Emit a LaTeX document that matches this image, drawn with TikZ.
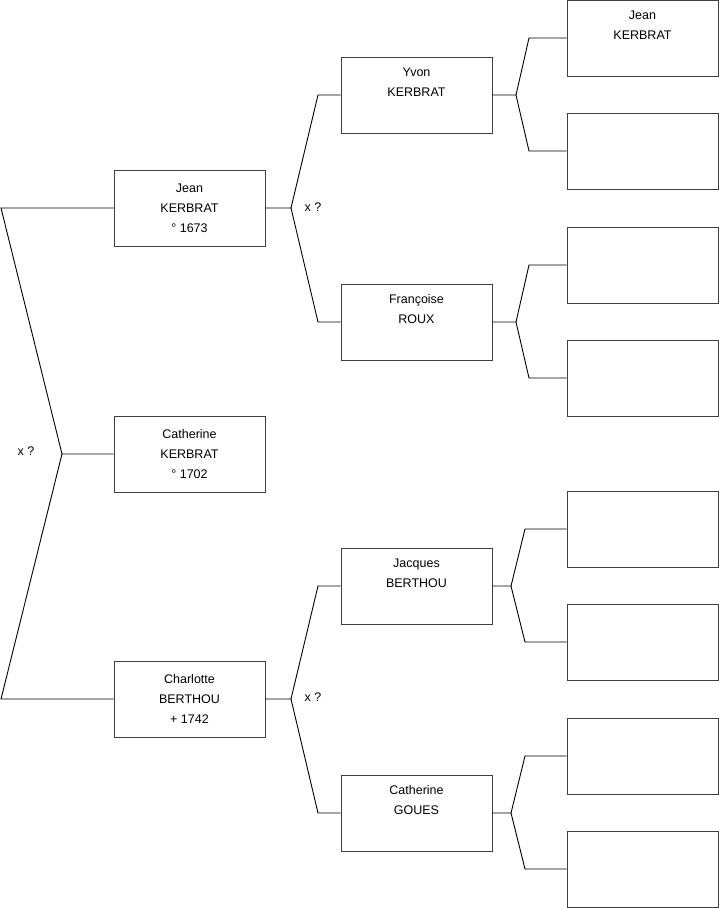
\documentclass[tikz,border=0pt]{standalone}
\usepackage{fontspec}
\setmainfont{Liberation Sans}

\begin{document}
\begin{tikzpicture}[x=1pt, y=-1pt,
    person/.style={draw=black!75, line width=1pt, minimum width=151pt, minimum height=76pt,
      inner sep=0pt, align=center, font=\fontsize{12.5}{20}\selectfont},
    link/.style={black, line width=0.9pt},
    union/.style={font=\fontsize{12.5}{15}\selectfont}]
    \useasboundingbox (0,0) rectangle (719,908);

    % Generation 1 (child and parents)
    \node[person] (cath)  at (189.5,454) {Catherine\\KERBRAT\\° 1702};
    \node[person] (jean)  at (189.5,208) {Jean\\KERBRAT\\° 1673};
    \node[person] (charl) at (189.5,699) {Charlotte\\BERTHOU\\+ 1742};

    % Generation 2 (grandparents)
    \node[person] (yvon)  at (416.5,95)  {Yvon\\KERBRAT\\\strut};
    \node[person] (franc) at (416.5,322) {Françoise\\ROUX\\\strut};
    \node[person] (jacq)  at (416.5,586) {Jacques\\BERTHOU\\\strut};
    \node[person] (goues) at (416.5,813) {Catherine\\GOUES\\\strut};

    % Generation 3 (great-grandparents)
    \node[person] (gg1) at (642.5,38)  {Jean\\KERBRAT\\\strut};
    \node[person] (gg2) at (642.5,151) {};
    \node[person] (gg3) at (642.5,265) {};
    \node[person] (gg4) at (642.5,378) {};
    \node[person] (gg5) at (642.5,529) {};
    \node[person] (gg6) at (642.5,642) {};
    \node[person] (gg7) at (642.5,756) {};
    \node[person] (gg8) at (642.5,869) {};

    % Junction points
    \coordinate (j0)  at (62,454);
    \coordinate (j0u) at (1,208);
    \coordinate (j0d) at (1,699);
    \coordinate (j1)  at (291,208);
    \coordinate (j1u) at (318,95);
    \coordinate (j1d) at (318,322);
    \coordinate (j2)  at (291,699);
    \coordinate (j2u) at (318,586);
    \coordinate (j2d) at (318,813);
    \coordinate (j3)  at (516,95);
    \coordinate (j3u) at (529,38);
    \coordinate (j3d) at (529,151);
    \coordinate (j4)  at (516,322);
    \coordinate (j4u) at (529,265);
    \coordinate (j4d) at (529,378);
    \coordinate (j5)  at (511,586);
    \coordinate (j5u) at (525,529);
    \coordinate (j5d) at (525,642);
    \coordinate (j6)  at (511,813);
    \coordinate (j6u) at (525,756);
    \coordinate (j6d) at (525,869);

    % Links to parents
    \draw[link] (cath.west) -- (j0) -- (j0u) -- (jean.west);
    \draw[link] (j0) -- (j0d) -- (charl.west);
    \draw[link] (jean.east) -- (j1) -- (j1u) -- (yvon.west);
    \draw[link] (j1) -- (j1d) -- (franc.west);
    \draw[link] (charl.east) -- (j2) -- (j2u) -- (jacq.west);
    \draw[link] (j2) -- (j2d) -- (goues.west);
    \draw[link] (yvon.east) -- (j3) -- (j3u) -- (gg1.west);
    \draw[link] (j3) -- (j3d) -- (gg2.west);
    \draw[link] (franc.east) -- (j4) -- (j4u) -- (gg3.west);
    \draw[link] (j4) -- (j4d) -- (gg4.west);
    \draw[link] (jacq.east) -- (j5) -- (j5u) -- (gg5.west);
    \draw[link] (j5) -- (j5d) -- (gg6.west);
    \draw[link] (goues.east) -- (j6) -- (j6u) -- (gg7.west);
    \draw[link] (j6) -- (j6d) -- (gg8.west);

    % Marriage marks
    \node[union] (m0) at (26,451) {x ?};
    \node[union] (m1) at (313,207) {x ?};
    \node[union] (m2) at (313,697) {x ?};
\end{tikzpicture}
\end{document}
